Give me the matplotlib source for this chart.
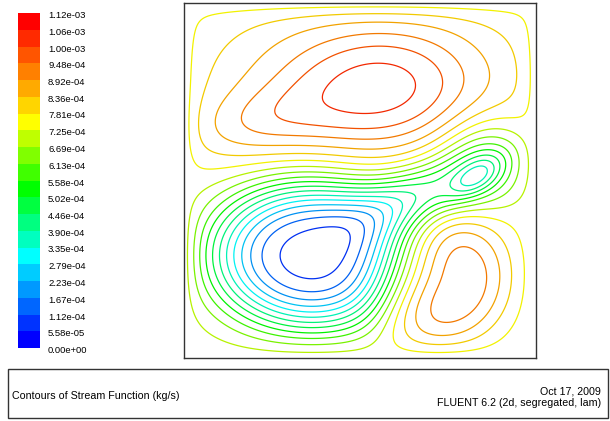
import numpy as np
import matplotlib
matplotlib.use("Agg")
import matplotlib.pyplot as plt
from matplotlib.colors import hsv_to_rgb
from matplotlib.patches import Rectangle

plt.rcParams['font.family'] = ['Liberation Sans', 'DejaVu Sans']

# contour levels / colorbar labels (kg/s)
levels = [0.0, 5.58e-05, 1.12e-04, 1.67e-04, 2.23e-04, 2.79e-04, 3.35e-04,
          3.90e-04, 4.46e-04, 5.02e-04, 5.58e-04, 6.13e-04, 6.69e-04, 7.25e-04,
          7.81e-04, 8.36e-04, 8.92e-04, 9.48e-04, 1.00e-03, 1.06e-03, 1.12e-03]
level_labels = ["0.00e+00", "5.58e-05", "1.12e-04", "1.67e-04", "2.23e-04",
                "2.79e-04", "3.35e-04", "3.90e-04", "4.46e-04", "5.02e-04",
                "5.58e-04", "6.13e-04", "6.69e-04", "7.25e-04", "7.81e-04",
                "8.36e-04", "8.92e-04", "9.48e-04", "1.00e-03", "1.06e-03",
                "1.12e-03"]

# stream function on the walls and the eddies seen in the cavity
# (top vortex: broad + tail + core, lower-left vortex + its arm,
#  small eddy on the right, lower-right vortex)
psi_wall = 7.5e-4
eddy_x = [0.52, 0.20, 0.56, 0.365, 0.66, 0.85, 0.83, 0.73]
eddy_y = [0.78, 0.66, 0.75, 0.29, 0.46, 0.55, 0.51, 0.22]
eddy_amp = [2.2e-4, 1.0e-4, 1.3e-4, -6.6e-4, -2.8e-4, -2.2e-4, -1.5e-4, 2.7e-4]
eddy_sx = [0.32, 0.15, 0.17, 0.23, 0.13, 0.09, 0.06, 0.16]
eddy_sy = [0.17, 0.07, 0.11, 0.165, 0.06, 0.08, 0.03, 0.15]
eddy_ang = [0, 10, 8, 0, 20, 40, 35, 45]
eddy_pow = [2, 2, 2, 3, 2, 2, 2, 3]

title = "Contours of Stream Function (kg/s)"
date = "Oct 17, 2009"
solver = "FLUENT 6.2 (2d, segregated, lam)"

# grid
n = 301
x = np.linspace(0, 1, n)
X, Y = np.meshgrid(x, x)
d = 0.04
wall = np.tanh(X / d) * np.tanh((1 - X) / d) * np.tanh(Y / d) * np.tanh((1 - Y) / d)
s = np.zeros_like(X)
for cx, cy, a, wx, wy, th, p in zip(eddy_x, eddy_y, eddy_amp, eddy_sx, eddy_sy,
                                    eddy_ang, eddy_pow):
    t = np.radians(th)
    u = (X - cx) * np.cos(t) + (Y - cy) * np.sin(t)
    v = -(X - cx) * np.sin(t) + (Y - cy) * np.cos(t)
    r = np.sqrt((u / wx) ** 2 + (v / wy) ** 2)
    s += a * np.exp(-0.5 * r ** p)
psi = psi_wall + wall * s

# fluent rainbow, 20 bands: blue(0) cyan(5) green(9) yellow(13) red(19)
nb = len(levels) - 1
hue_nodes = [0, 5, 9, 13, 19]
hue_vals = [240, 180, 120, 60, 0]
hues = np.interp(np.arange(nb), hue_nodes, hue_vals) / 360
band_colors = [hsv_to_rgb((h, 1, 1)) for h in hues]
line_colors = [hsv_to_rgb((h, 1, 0.95)) for h in hues[:-1]]

W, H = 610, 421
fig = plt.figure(figsize=(W / 100, H / 100), dpi=100)

ax = fig.add_axes([184 / W, 1 - 358 / H, 352 / W, 355 / H])
ax.contour(X, Y, psi, levels=levels[1:-1], colors=line_colors, linewidths=0.9)
ax.set_xlim(0, 1)
ax.set_ylim(0, 1)
ax.set_xticks([])
ax.set_yticks([])
for sp in ax.spines.values():
    sp.set_linewidth(1.0)
    sp.set_color("#333333")

# colorbar
cax = fig.add_axes([18 / W, 1 - 348 / H, 22 / W, 335 / H])
for j in range(nb):
    cax.bar(0, 1, bottom=j, width=1, color=band_colors[j], align='edge')
cax.set_xlim(0, 1)
cax.set_ylim(0, nb)
cax.axis('off')
for i, lab in enumerate(level_labels[::-1]):
    fig.text(48 / W, 1 - (15.5 + 16.75 * i) / H, lab, fontsize=6.8,
             va='center', ha='left')

# caption box
fig.add_artist(Rectangle((8 / W, 1 - 418 / H), 600 / W, 49 / H, transform=fig.transFigure,
                         fill=False, edgecolor="#333333", linewidth=1.0))
fig.text(12 / W, 1 - 396 / H, title, fontsize=7.7, va='center', ha='left')
fig.text(601 / W, 1 - 391 / H, date, fontsize=7.7, va='center', ha='right')
fig.text(601 / W, 1 - 403 / H, solver, fontsize=7.7, va='center', ha='right')

fig.savefig("out.png", dpi=100)
